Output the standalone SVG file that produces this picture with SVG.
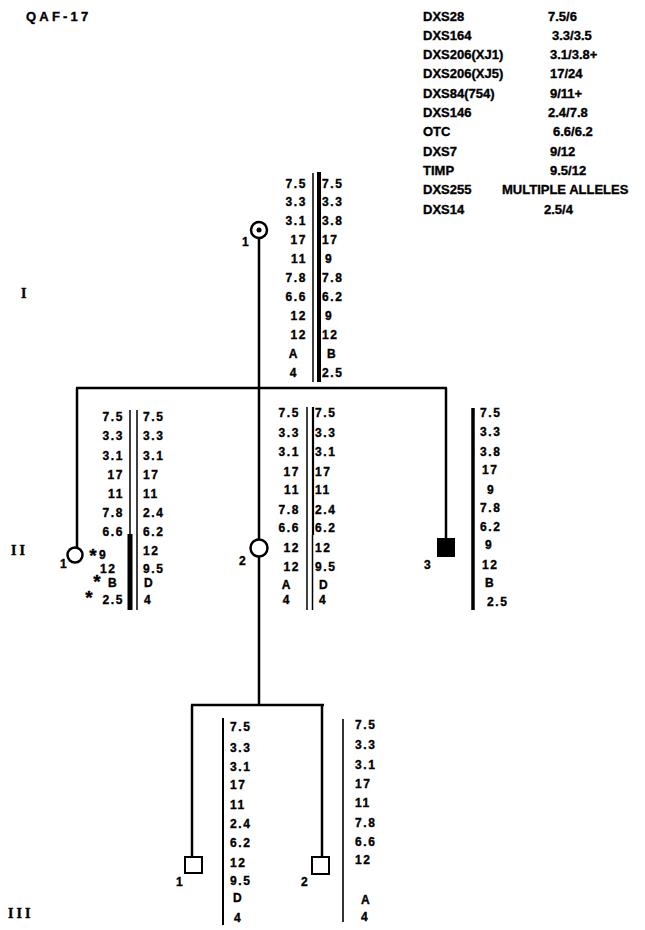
<svg xmlns="http://www.w3.org/2000/svg" width="645" height="930" viewBox="0 0 645 930">
<style>
text{font-family:"Liberation Sans",Arial,sans-serif;font-weight:bold;fill:#000;stroke:#000;stroke-width:0.35px}
.h{font-size:12px;letter-spacing:1.6px}
.r{text-anchor:end}
.m{text-anchor:middle}
.leg{font-size:13px;stroke-width:0.4px}
.lbl{font-size:12px}
.ast{font-size:19px;text-anchor:middle}
.rom{font-family:"Liberation Serif","Times New Roman",serif;font-size:14px;letter-spacing:3px}
.ln{stroke:#000;fill:none;stroke-width:2.5}
.hl{stroke:#000;fill:none}
</style>
<rect width="645" height="930" fill="#fff"/>
<text x="26" y="21" style="font-size:13px;letter-spacing:3.2px">QAF-17</text>
<g id="legend" class="leg">
<text x="423" y="20.5">DXS28</text>
<text x="423" y="39.8">DXS164</text>
<text x="423" y="59.1">DXS206(XJ1)</text>
<text x="423" y="78.4">DXS206(XJ5)</text>
<text x="423" y="97.7">DXS84(754)</text>
<text x="423" y="117">DXS146</text>
<text x="423" y="136.3">OTC</text>
<text x="423" y="155.6">DXS7</text>
<text x="423" y="174.9">TIMP</text>
<text x="423" y="194.2">DXS255</text>
<text x="423" y="213.5">DXS14</text>
<text x="548" y="20.5">7.5/6</text>
<text x="552" y="39.8">3.3/3.5</text>
<text x="550" y="59.1">3.1/3.8+</text>
<text x="550" y="78.4">17/24</text>
<text x="550" y="97.7">9/11+</text>
<text x="548" y="117">2.4/7.8</text>
<text x="553" y="136.3">6.6/6.2</text>
<text x="550" y="155.6">9/12</text>
<text x="550" y="174.9">9.5/12</text>
<text x="502" y="194.2">MULTIPLE ALLELES</text>
<text x="544" y="213.5">2.5/4</text>
</g>
<g id="generations">
<text class="rom" x="21" y="298">I</text>
<text class="rom" x="11" y="555">II</text>
<text class="rom" x="8" y="918">III</text>
</g>
<g id="connectors" class="ln">
<line x1="259" y1="238" x2="259" y2="388"/>
<line x1="76" y1="388" x2="447" y2="388"/>
<line x1="77" y1="388" x2="77" y2="548"/>
<line x1="259" y1="388" x2="259" y2="540"/>
<line x1="446" y1="388" x2="446" y2="539"/>
<line x1="259" y1="556" x2="259" y2="705"/>
<line x1="191" y1="705" x2="324" y2="705"/>
<line x1="192" y1="705" x2="192" y2="857"/>
<line x1="322" y1="705" x2="322" y2="857"/>
</g>
<g id="I-1">
<circle cx="259" cy="230" r="8" fill="#fff" stroke="#000" stroke-width="2.5"/>
<circle cx="259" cy="230" r="2.5" fill="#000"/>
<text class="lbl" x="242" y="246">1</text>
<line class="hl" x1="313" y1="173" x2="313" y2="382" stroke-width="1.5"/>
<line class="hl" x1="319" y1="172" x2="319" y2="382" stroke-width="4"/>
<g class="h r">
<text x="307" y="188">7.5</text><text x="307" y="206">3.3</text><text x="307" y="225">3.1</text><text x="307" y="244">17</text><text x="307" y="263">11</text><text x="307" y="282">7.8</text><text x="307" y="301">6.6</text><text x="307" y="320">12</text><text x="307" y="339">12</text>
</g>
<text class="h m" x="294" y="358">A</text><text class="h m" x="294" y="377">4</text>
<g class="h">
<text x="322" y="188">7.5</text><text x="322" y="206">3.3</text><text x="322" y="225">3.8</text><text x="322" y="244">17</text><text x="325" y="263">9</text><text x="322" y="282">7.8</text><text x="322" y="301">6.2</text><text x="325" y="320">9</text><text x="322" y="339">12</text><text x="327" y="358">B</text><text x="322" y="377">2.5</text>
</g>
</g>
<g id="II-1">
<circle cx="75" cy="555" r="7.5" fill="#fff" stroke="#000" stroke-width="2.5"/>
<text class="lbl" x="60" y="568">1</text>
<line class="hl" x1="130" y1="410" x2="130" y2="610" stroke-width="1.5"/>
<line class="hl" x1="130" y1="534" x2="130" y2="610" stroke-width="5"/>
<line class="hl" x1="137" y1="410" x2="137" y2="610" stroke-width="1.5"/>
<g class="h r">
<text x="124" y="421">7.5</text><text x="124" y="440">3.3</text><text x="124" y="460">3.1</text><text x="124" y="479">17</text><text x="124" y="498">11</text><text x="124" y="517">7.8</text><text x="124" y="536">6.6</text><text x="124" y="604">2.5</text>
</g>
<g class="h">
<text x="99" y="559">9</text><text x="100" y="573">12</text><text x="108" y="587">B</text>
</g>
<text class="ast" x="93" y="562">*</text>
<text class="ast" x="97" y="588">*</text>
<text class="ast" x="89" y="604">*</text>
<g class="h">
<text x="143" y="421">7.5</text><text x="143" y="440">3.3</text><text x="143" y="460">3.1</text><text x="143" y="479">17</text><text x="143" y="498">11</text><text x="143" y="517">2.4</text><text x="143" y="536">6.2</text><text x="143" y="555">12</text><text x="143" y="573">9.5</text><text x="144" y="587">D</text><text x="144" y="604">4</text>
</g>
</g>
<g id="II-2">
<circle cx="259" cy="548" r="8.5" fill="#fff" stroke="#000" stroke-width="2.5"/>
<text class="lbl" x="239" y="565">2</text>
<line class="hl" x1="307" y1="407" x2="307" y2="610" stroke-width="1.5"/>
<line class="hl" x1="313" y1="407" x2="313" y2="535" stroke-width="2.2"/>
<line class="hl" x1="312.5" y1="535" x2="312.5" y2="610" stroke-width="1.5"/>
<g class="h r">
<text x="300" y="417">7.5</text><text x="300" y="437">3.3</text><text x="300" y="456">3.1</text><text x="300" y="476">17</text><text x="300" y="494">11</text><text x="300" y="514">7.8</text><text x="300" y="532">6.6</text><text x="300" y="552">12</text><text x="300" y="571">12</text>
</g>
<text class="h m" x="287" y="589">A</text><text class="h m" x="287" y="604">4</text>
<g class="h">
<text x="315" y="417">7.5</text><text x="315" y="437">3.3</text><text x="315" y="456">3.1</text><text x="315" y="476">17</text><text x="315" y="494">11</text><text x="315" y="514">2.4</text><text x="315" y="532">6.2</text><text x="315" y="552">12</text><text x="315" y="571">9.5</text><text x="319" y="589">D</text><text x="319" y="604">4</text>
</g>
</g>
<g id="II-3">
<rect x="437" y="538" width="18" height="19" fill="#000"/>
<text class="lbl" x="424" y="569">3</text>
<line class="hl" x1="473" y1="408" x2="473" y2="610" stroke-width="3.5"/>
<g class="h">
<text x="480" y="417">7.5</text><text x="480" y="436">3.3</text><text x="480" y="456">3.8</text><text x="482" y="474">17</text><text x="487" y="494">9</text><text x="480" y="512">7.8</text><text x="480" y="531">6.2</text><text x="485" y="549">9</text><text x="482" y="569">12</text><text x="485" y="587">B</text><text x="487" y="606">2.5</text>
</g>
</g>
<g id="III-1">
<rect x="185" y="857" width="17" height="16" fill="#fff" stroke="#000" stroke-width="2"/>
<text class="lbl" x="176" y="886">1</text>
<line class="hl" x1="223" y1="718" x2="223" y2="925" stroke-width="2"/>
<g class="h">
<text x="230" y="731">7.5</text><text x="230" y="752">3.3</text><text x="230" y="771">3.1</text><text x="230" y="789">17</text><text x="230" y="809">11</text><text x="230" y="828">2.4</text><text x="230" y="847">6.2</text><text x="230" y="867">12</text><text x="230" y="885">9.5</text><text x="233" y="902">D</text><text x="234" y="922">4</text>
</g>
</g>
<g id="III-2">
<rect x="312" y="857" width="17" height="17" fill="#fff" stroke="#000" stroke-width="2"/>
<text class="lbl" x="301" y="886">2</text>
<line class="hl" x1="343" y1="719" x2="343" y2="922" stroke-width="1.6"/>
<g class="h">
<text x="355" y="729">7.5</text><text x="355" y="749">3.3</text><text x="355" y="769">3.1</text><text x="355" y="788">17</text><text x="355" y="807">11</text><text x="355" y="827">7.8</text><text x="355" y="846">6.6</text><text x="355" y="864">12</text><text x="361" y="904">A</text><text x="361" y="921">4</text>
</g>
</g>
</svg>
